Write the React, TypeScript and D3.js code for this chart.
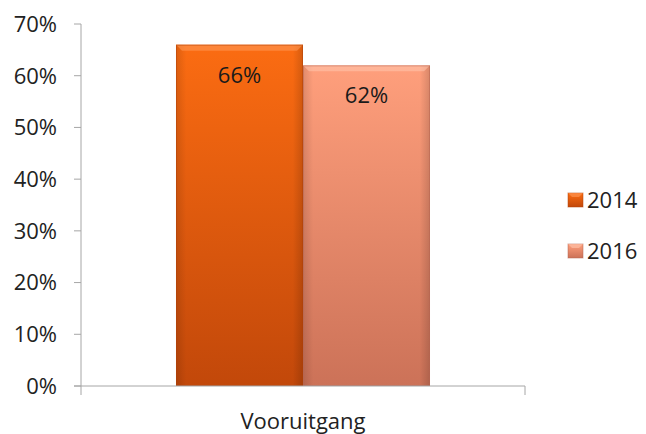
import React from "react";
import * as d3 from "d3";

const categories = ["Vooruitgang"];
const seriesNames = ["2014", "2016"];
const values2014 = [0.66];
const values2016 = [0.62];
const yTicks = [0, 0.1, 0.2, 0.3, 0.4, 0.5, 0.6, 0.7];

const W = 646, H = 434;
const margin = { left: 81, right: 121, top: 24, bottom: 48 };

const colors = [
  { top: "#fb6c12", bottom: "#c2480a", edge: "#b04008", hi: "#ff9a5a" },
  { top: "#ff9f7c", bottom: "#cc7258", edge: "#b66450", hi: "#ffc6ae" },
];

export default function App() {
  const x0 = d3.scaleBand().domain(categories).range([margin.left, W - margin.right]).paddingInner(0).paddingOuter(0.374);
  const x1 = d3.scaleBand().domain(seriesNames).range([0, x0.bandwidth()]).padding(0);
  const y = d3.scaleLinear().domain([0, 0.7]).range([H - margin.bottom, margin.top]);
  const fmt = d3.format(".0%");
  const series = [values2014, values2016];
  const font = "'Open Sans', 'Noto Sans', sans-serif";
  const y0 = y(0);

  return (
    <svg width={W} height={H} style={{ position: "absolute", left: 0, top: 0, background: "#fff" }}>
      <defs>
        {colors.map((c, i) => (
          <linearGradient key={i} id={`g${i}`} x1="0" y1="0" x2="0" y2="1">
            <stop offset="0" stopColor={c.top} />
            <stop offset="1" stopColor={c.bottom} />
          </linearGradient>
        ))}
        {colors.map((c, i) => (
          <linearGradient key={i} id={`h${i}`} x1="0" y1="0" x2="1" y2="0">
            <stop offset="0" stopColor="#000" stopOpacity={0.12} />
            <stop offset="0.08" stopColor="#000" stopOpacity={0} />
            <stop offset="0.92" stopColor="#000" stopOpacity={0} />
            <stop offset="1" stopColor="#000" stopOpacity={0.15} />
          </linearGradient>
        ))}
      </defs>
      {/* y axis */}
      <line x1={margin.left} x2={margin.left} y1={y(0.7)} y2={y0} stroke="#a6a6a6" />
      {yTicks.map((t) => (
        <g key={t}>
          <line x1={margin.left - 7} x2={margin.left} y1={y(t)} y2={y(t)} stroke="#a6a6a6" />
          <text x={57} y={y(t)} dy="0.36em" textAnchor="end" fontFamily={font} fontSize={22} fill="#222">
            {fmt(t)}
          </text>
        </g>
      ))}
      {/* bars */}
      {categories.map((cat, ci) => (
        <g key={cat}>
          {seriesNames.map((s, si) => {
            const v = series[si][ci];
            const bx = (x0(cat) as number) + (x1(s) as number);
            const bw = x1.bandwidth();
            const by = y(v);
            const bh = y0 - by;
            const c = colors[si];
            return (
              <g key={s}>
                <rect x={bx} y={by} width={bw} height={bh} fill={`url(#g${si})`} />
                <rect x={bx} y={by} width={bw} height={bh} fill={`url(#h${si})`} />
                <polygon
                  points={`${bx},${by} ${bx + bw},${by} ${bx + bw - 6},${by + 6} ${bx + 6},${by + 6}`}
                  fill={c.hi}
                  opacity={0.55}
                />
                <rect x={bx + 0.5} y={by + 0.5} width={bw - 1} height={bh - 1} fill="none" stroke={c.edge} strokeOpacity={0.5} />
                <text x={bx + bw / 2} y={by + 30} dy="0.36em" textAnchor="middle" fontFamily={font} fontSize={22} fill="#1a1a1a">
                  {fmt(v)}
                </text>
              </g>
            );
          })}
        </g>
      ))}
      {/* x axis */}
      <line x1={margin.left - 7} x2={W - margin.right} y1={y0} y2={y0} stroke="#a6a6a6" />
      <line x1={margin.left} x2={margin.left} y1={y0} y2={y0 + 9} stroke="#a6a6a6" />
      <line x1={W - margin.right} x2={W - margin.right} y1={y0} y2={y0 + 9} stroke="#a6a6a6" />
      {categories.map((cat) => (
        <text key={cat} x={(x0(cat) as number) + x0.bandwidth() / 2} y={421} dy="0.36em" textAnchor="middle" fontFamily={font} fontSize={22} fill="#222">
          {cat}
        </text>
      ))}
      {/* legend */}
      {seriesNames.map((s, i) => (
        <g key={s} transform={`translate(568, ${193 + i * 51})`}>
          <rect x={0} y={0} width={15} height={14} fill={`url(#g${i})`} stroke={colors[i].edge} strokeOpacity={0.5} />
          <polygon points="0,0 15,0 11,4 4,4" fill={colors[i].hi} opacity={0.6} />
          <text x={19} y={7} dy="0.36em" fontFamily={font} fontSize={22} fill="#222">
            {s}
          </text>
        </g>
      ))}
    </svg>
  );
}
